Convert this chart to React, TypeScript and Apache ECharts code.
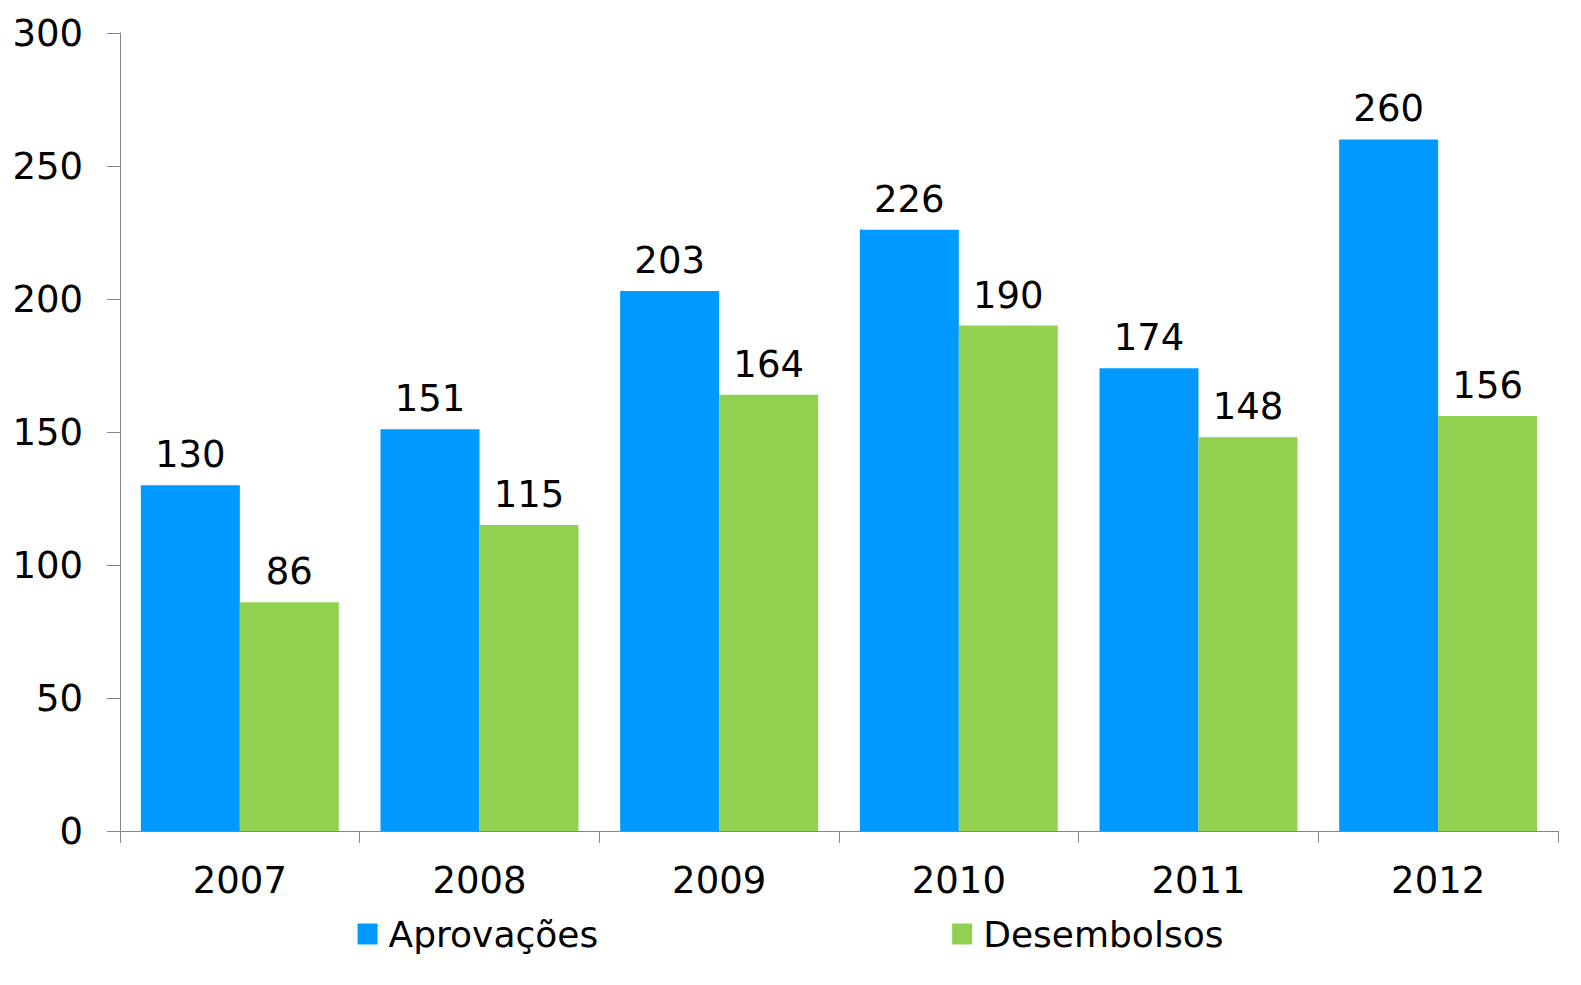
import React, { useEffect, useRef } from "react";
import * as echarts from "echarts";

const categories = ["2007", "2008", "2009", "2010", "2011", "2012"];
const aprovacoes = [130, 151, 203, 226, 174, 260];
const desembolsos = [86, 115, 164, 190, 148, 156];
const seriesNames = ["Aprovações", "Desembolsos"];
const colors = ["#0099FF", "#92D050"];

const FONT = "DejaVu Sans";

export default function App() {
  const ref = useRef<HTMLDivElement>(null);
  useEffect(() => {
    if (!ref.current) return;
    const chart = echarts.init(ref.current, undefined, { renderer: "svg" });
    const labelStyle = {
      show: true,
      position: "top" as const,
      distance: 12,
      color: "#000",
      fontFamily: FONT,
      fontSize: 37,
    };
    chart.setOption({
      animation: false,
      backgroundColor: "#ffffff",
      grid: { left: 120, right: 23, top: 33, bottom: 154, containLabel: false },
      legend: {
        bottom: 28,
        left: "center",
        itemGap: 354,
        itemWidth: 20,
        itemHeight: 21,
        icon: "rect",
        textStyle: { fontFamily: FONT, fontSize: 36, color: "#000", padding: [0, 0, 0, 6] },
        data: seriesNames,
      },
      xAxis: {
        type: "category",
        data: categories,
        axisLine: { lineStyle: { color: "#868686", width: 1 } },
        axisTick: { show: true, length: 12, lineStyle: { color: "#868686" } },
        axisLabel: { fontFamily: FONT, fontSize: 37, color: "#000", margin: 31 },
      },
      yAxis: {
        type: "value",
        min: 0,
        max: 300,
        interval: 50,
        splitLine: { show: false },
        axisLine: { show: true, lineStyle: { color: "#868686", width: 1 } },
        axisTick: { show: true, length: 13, lineStyle: { color: "#868686" } },
        axisLabel: { fontFamily: FONT, fontSize: 37, color: "#000", margin: 37 },
      },
      series: [
        {
          name: seriesNames[0],
          type: "bar",
          data: aprovacoes,
          itemStyle: { color: colors[0] },
          barGap: "0%",
          barCategoryGap: "17.4%",
          label: labelStyle,
        },
        {
          name: seriesNames[1],
          type: "bar",
          data: desembolsos,
          itemStyle: { color: colors[1] },
          barGap: "0%",
          barCategoryGap: "17.4%",
          label: labelStyle,
        },
      ],
    });
    return () => chart.dispose();
  }, []);
  return (
    <div
      ref={ref}
      style={{ position: "fixed", left: 0, top: 0, width: 1581, height: 985 }}
    />
  );
}
